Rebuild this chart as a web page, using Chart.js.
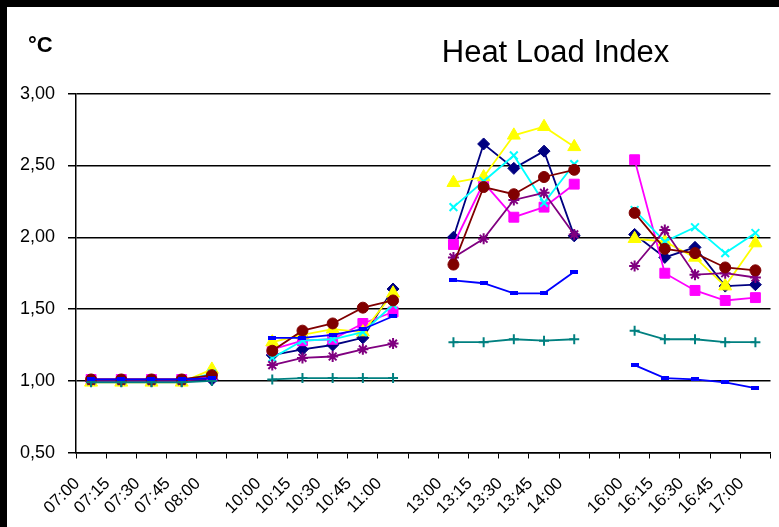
<!DOCTYPE html>
<html>
<head>
<meta charset="utf-8">
<script src="https://cdn.jsdelivr.net/npm/chart.js@4/dist/chart.umd.min.js"></script>
<style>
  html, body { margin: 0; padding: 0; background: #000; width: 779px; height: 527px; overflow: hidden; }
  #frame { position: absolute; left: 7px; top: 7px; width: 772px; height: 520px; background: #fff; }
  canvas { display: block; }
</style>
</head>
<body>
<div id="frame"><canvas id="chart" width="772" height="520"></canvas></div>
<script>
// Measurement times (empty entries separate the four sessions)
const times = ['07:00','07:15','07:30','07:45','08:00','',
               '10:00','10:15','10:30','10:45','11:00','',
               '13:00','13:15','13:30','13:45','14:00','',
               '16:00','16:15','16:30','16:45','17:00'];

// Heat Load Index per series
const seriesA = [1.00,1.00,1.00,1.00,1.01,null, 1.18,1.22,1.25,1.30,1.64,null, 2.00,2.65,2.48,2.60,2.01,null, 2.02,1.86,1.93,1.66,1.67];
const seriesB = [1.01,1.01,1.01,1.01,1.03,null, 1.22,1.28,1.29,1.40,1.48,null, 1.95,2.38,2.14,2.21,2.37,null, 2.54,1.75,1.63,1.56,1.58];
const seriesC = [0.99,0.99,0.99,0.99,1.08,null, 1.27,1.32,1.36,1.34,1.61,null, 2.38,2.42,2.71,2.77,2.63,null, 1.99,1.97,1.86,1.66,1.96];
const seriesD = [1.00,1.00,1.00,1.00,1.05,null, 1.16,1.28,1.29,1.34,1.53,null, 2.21,2.39,2.57,2.24,2.51,null, 2.19,1.97,2.07,1.89,2.03];
const seriesE = [1.00,1.00,1.00,1.00,1.02,null, 1.11,1.16,1.17,1.22,1.26,null, 1.86,1.99,2.26,2.31,2.02,null, 1.80,2.05,1.74,1.75,1.72];
const seriesF = [1.01,1.01,1.01,1.01,1.04,null, 1.21,1.35,1.40,1.51,1.56,null, 1.81,2.35,2.30,2.42,2.47,null, 2.17,1.92,1.89,1.79,1.77];
const seriesG = [0.99,0.99,0.99,0.99,1.00,null, 1.01,1.02,1.02,1.02,1.02,null, 1.27,1.27,1.29,1.28,1.29,null, 1.35,1.29,1.29,1.27,1.27];
const seriesH = [1.01,1.01,1.01,1.01,1.02,null, 1.30,1.30,1.32,1.36,1.45,null, 1.70,1.68,1.61,1.61,1.76,null, 1.11,1.02,1.01,0.99,0.95];

// Y axis ticks
const yTicks = [0.5, 1.0, 1.5, 2.0, 2.5, 3.0];

const FONT = '"Liberation Sans", Arial, Helvetica, sans-serif';

// small filled bar used as the "dash" marker
function dashMarker(color, w, h) {
  const c = document.createElement('canvas');
  c.width = w; c.height = h;
  const g = c.getContext('2d');
  g.fillStyle = color;
  g.fillRect(0, 0, w, h);
  return c;
}

function series(data, color, style, radius, bw, order) {
  return {
    data: data,
    borderColor: color,
    backgroundColor: color,
    pointBackgroundColor: color,
    pointBorderColor: color,
    pointStyle: style,
    pointRadius: radius,
    pointBorderWidth: bw,
    borderWidth: 1.8,
    tension: 0,
    spanGaps: false,
    order: order
  };
}

const headings = {
  id: 'headings',
  afterDraw(chart) {
    const ctx = chart.ctx;
    ctx.save();
    ctx.fillStyle = '#000';
    ctx.textBaseline = 'alphabetic';
    ctx.textAlign = 'left';
    ctx.font = 'bold 22px ' + FONT;
    ctx.fillText('°C', 21, 45);
    ctx.font = '31px ' + FONT;
    ctx.textAlign = 'center';
    ctx.fillText('Heat Load Index', 548.5, 55);
    ctx.restore();
  }
};

new Chart(document.getElementById('chart'), {
  type: 'line',
  data: {
    labels: times,
    datasets: [
      series(seriesA, '#000080', 'rectRot', 6, 1, 8),
      series(seriesB, '#FF00FF', 'rect', 7, 1, 7),
      series(seriesC, '#FFFF00', 'triangle', 7.5, 1, 6),
      series(seriesD, '#00FFFF', 'crossRot', 5.5, 2, 5),
      series(seriesE, '#800080', 'star', 5.5, 2, 4),
      series(seriesF, '#800000', 'circle', 5.5, 1, 3),
      series(seriesG, '#008080', 'cross', 5, 2, 2),
      series(seriesH, '#0000FF', dashMarker('#0000FF', 8, 4), 4, 1, 1)
    ]
  },
  options: {
    responsive: false,
    animation: false,
    events: [],
    layout: { padding: { top: 86.7, right: 6.7, left: 0, bottom: 0 } },
    plugins: { legend: { display: false }, tooltip: { enabled: false }, title: { display: false } },
    scales: {
      x: {
        type: 'category',
        offset: true,
        afterFit(scale) { scale.height = 74.3; },
        grid: {
          display: true, drawOnChartArea: false, drawTicks: true,
          tickLength: 17, tickBorderDash: [5, 200],
          color: '#000', lineWidth: 1, offset: true
        },
        border: { display: true, color: '#000', width: 1.5 },
        ticks: {
          autoSkip: false, maxRotation: 45, minRotation: 45,
          color: '#000', font: { family: FONT, size: 17 },
          padding: 4, labelOffset: -14
        }
      },
      y: {
        min: 0.5, max: 3.0,
        afterFit(scale) { scale.width = 69; },
        afterBuildTicks(scale) { scale.ticks = yTicks.map(v => ({ value: v })); },
        grid: { color: '#000', lineWidth: 1.5, drawTicks: true, tickLength: 8 },
        border: { display: true, color: '#000', width: 1.5 },
        ticks: {
          color: '#000', font: { family: FONT, size: 18 }, padding: 13,
          callback: v => v.toFixed(2).replace('.', ',')
        }
      }
    }
  },
  plugins: [headings]
});
</script>
</body>
</html>
